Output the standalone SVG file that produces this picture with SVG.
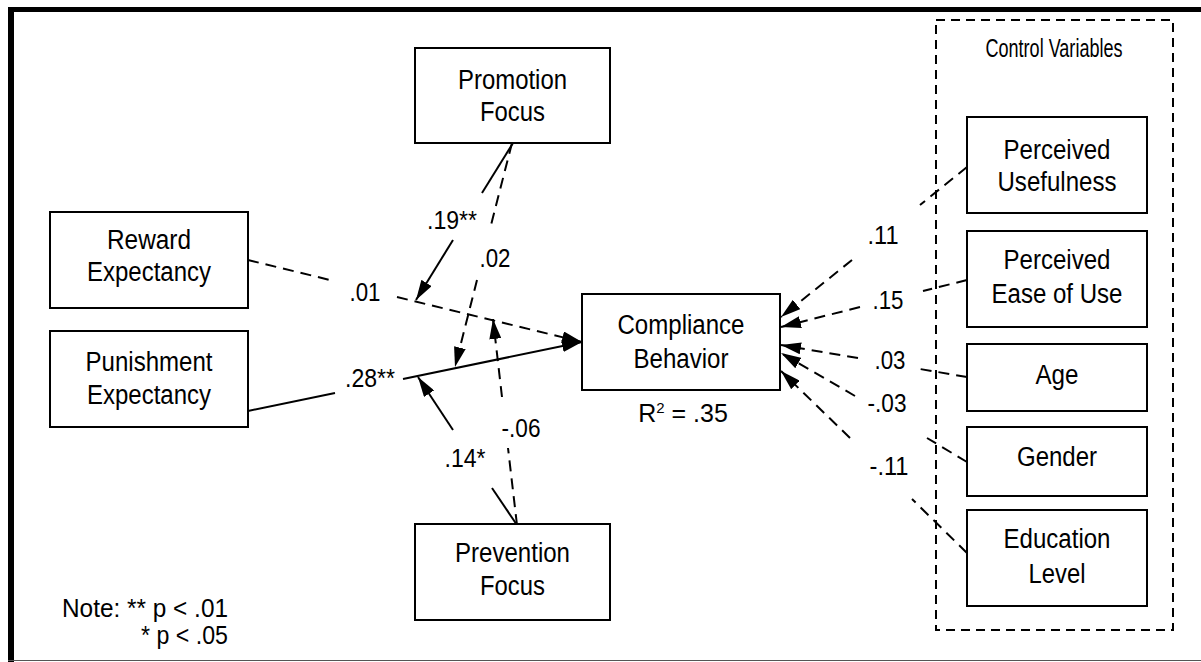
<svg xmlns="http://www.w3.org/2000/svg" width="1201" height="662" viewBox="0 0 1201 662">
<style>
.box{fill:#fff;stroke:#000;stroke-width:2}
.t{font-family:"Liberation Sans Narrow","Liberation Sans",Arial,sans-serif;font-size:27px;fill:#000;text-anchor:middle}
.cv{font-family:"Liberation Sans Narrow","Liberation Sans",Arial,sans-serif;font-size:25px;fill:#000;text-anchor:middle}
.lb{font-family:"Liberation Sans Narrow","Liberation Sans",Arial,sans-serif;font-size:26px;fill:#000;text-anchor:middle}
.s{stroke:#000;stroke-width:2;fill:none}
.d{stroke:#000;stroke-width:2;fill:none;stroke-dasharray:11 7}
</style>
<defs>
<marker id="ah" markerWidth="20" markerHeight="12" refX="20" refY="6" orient="auto" markerUnits="userSpaceOnUse">
<path d="M0,0 L20,6 L0,12 z" fill="#000"/>
</marker>
</defs>
<rect width="1201" height="662" fill="#fff"/>
<g id="frame">
<rect x="8" y="7" width="1193" height="5" fill="#000"/>
<rect x="8" y="7" width="6" height="655" fill="#000"/>
<line x1="8" y1="660.5" x2="1201" y2="660.5" stroke="#555" stroke-width="1"/>
</g>
<g id="control-group">
<rect x="936" y="20" width="237" height="610" fill="none" stroke="#000" stroke-width="2" stroke-dasharray="9 6"/>
<text x="1054" y="57" class="cv" font-size="25" textLength="137" lengthAdjust="spacingAndGlyphs">Control Variables</text>
</g>
<g id="connectors">
<path class="d" d="M248,260 L330,280"/>
<path class="d" d="M397,297 L582,342" marker-end="url(#ah)"/>
<path class="s" d="M248,411 L335,393"/>
<path class="s" d="M403,379 L582,342" marker-end="url(#ah)"/>
<path class="s" d="M513,143 L482,193"/>
<path class="s" d="M453,240 L416,300" marker-end="url(#ah)"/>
<path class="d" d="M512,143 L491,225"/>
<path class="d" d="M477,280 L455,367" marker-end="url(#ah)"/>
<path class="s" d="M517,525 L492,488"/>
<path class="s" d="M453,430 L418,377" marker-end="url(#ah)"/>
<path class="d" d="M517,525 L508,448"/>
<path class="d" d="M502,397 L493,319" marker-end="url(#ah)"/>
<path class="d" d="M967,167 L920,205"/>
<path class="d" d="M852,260 L781,317" marker-end="url(#ah)"/>
<path class="d" d="M967,280 L923,291"/>
<path class="d" d="M860,307 L781,327" marker-end="url(#ah)"/>
<path class="d" d="M967,377 L920,369"/>
<path class="d" d="M858,358 L781,345" marker-end="url(#ah)"/>
<path class="d" d="M967,462 L927,438"/>
<path class="d" d="M855,396 L781,353" marker-end="url(#ah)"/>
<path class="d" d="M967,553 L912,499"/>
<path class="d" d="M850,438 L781,371" marker-end="url(#ah)"/>
<text x="365" y="301" class="lb" textLength="31" lengthAdjust="spacingAndGlyphs">.01</text>
<text x="370" y="387" class="lb" textLength="50" lengthAdjust="spacingAndGlyphs">.28**</text>
<text x="452" y="229" class="lb" textLength="50" lengthAdjust="spacingAndGlyphs">.19**</text>
<text x="495" y="267" class="lb" textLength="31" lengthAdjust="spacingAndGlyphs">.02</text>
<text x="465" y="467" class="lb" textLength="41" lengthAdjust="spacingAndGlyphs">.14*</text>
<text x="521" y="437" class="lb" textLength="39" lengthAdjust="spacingAndGlyphs">-.06</text>
<text x="883" y="244" class="lb" textLength="31" lengthAdjust="spacingAndGlyphs">.11</text>
<text x="888" y="309" class="lb" textLength="31" lengthAdjust="spacingAndGlyphs">.15</text>
<text x="890" y="369" class="lb" textLength="31" lengthAdjust="spacingAndGlyphs">.03</text>
<text x="887" y="412" class="lb" textLength="39" lengthAdjust="spacingAndGlyphs">-.03</text>
<text x="889" y="475" class="lb" textLength="39" lengthAdjust="spacingAndGlyphs">-.11</text>
</g>
<g id="promotion">
<rect x="415" y="48" width="195" height="95" class="box"/>
<text x="512.5" y="89" class="t" textLength="109" lengthAdjust="spacingAndGlyphs">Promotion</text>
<text x="512.5" y="121" class="t" textLength="65" lengthAdjust="spacingAndGlyphs">Focus</text>
</g>
<g id="reward">
<rect x="50" y="212" width="198" height="96" class="box"/>
<text x="149" y="249" class="t" textLength="84" lengthAdjust="spacingAndGlyphs">Reward</text>
<text x="149" y="281" class="t" textLength="124" lengthAdjust="spacingAndGlyphs">Expectancy</text>
</g>
<g id="punishment">
<rect x="50" y="331" width="198" height="96" class="box"/>
<text x="149" y="371" class="t" textLength="127" lengthAdjust="spacingAndGlyphs">Punishment</text>
<text x="149" y="404" class="t" textLength="124" lengthAdjust="spacingAndGlyphs">Expectancy</text>
</g>
<g id="prevention">
<rect x="415" y="524" width="195" height="96" class="box"/>
<text x="512.5" y="562" class="t" textLength="115" lengthAdjust="spacingAndGlyphs">Prevention</text>
<text x="512.5" y="595" class="t" textLength="65" lengthAdjust="spacingAndGlyphs">Focus</text>
</g>
<g id="compliance">
<rect x="582" y="294" width="198" height="96" class="box"/>
<text x="681" y="334" class="t" textLength="127" lengthAdjust="spacingAndGlyphs">Compliance</text>
<text x="681" y="368" class="t" textLength="95" lengthAdjust="spacingAndGlyphs">Behavior</text>
<text x="683" y="422" class="t" style="font-size:25px">R<tspan font-size="15" dy="-9">2</tspan><tspan dy="9"> = .35</tspan></text>
</g>
<g id="usefulness">
<rect x="967" y="117" width="180" height="96" class="box"/>
<text x="1057" y="159" class="t" textLength="107" lengthAdjust="spacingAndGlyphs">Perceived</text>
<text x="1057" y="191" class="t" textLength="119" lengthAdjust="spacingAndGlyphs">Usefulness</text>
</g>
<g id="ease">
<rect x="967" y="231" width="180" height="96" class="box"/>
<text x="1057" y="269" class="t" textLength="107" lengthAdjust="spacingAndGlyphs">Perceived</text>
<text x="1057" y="303" class="t" textLength="131" lengthAdjust="spacingAndGlyphs">Ease of Use</text>
</g>
<g id="age">
<rect x="967" y="344" width="180" height="67" class="box"/>
<text x="1057" y="384" class="t" textLength="43" lengthAdjust="spacingAndGlyphs">Age</text>
</g>
<g id="gender">
<rect x="967" y="427" width="180" height="69" class="box"/>
<text x="1057" y="466" class="t" textLength="80" lengthAdjust="spacingAndGlyphs">Gender</text>
</g>
<g id="education">
<rect x="967" y="510" width="180" height="96" class="box"/>
<text x="1057" y="548" class="t" textLength="107" lengthAdjust="spacingAndGlyphs">Education</text>
<text x="1057" y="583" class="t" textLength="57" lengthAdjust="spacingAndGlyphs">Level</text>
</g>
<g id="note">
<text x="62" y="617" class="t" style="text-anchor:start;font-size:25px" textLength="166" lengthAdjust="spacingAndGlyphs">Note: ** p &lt; .01</text>
<text x="228" y="644" class="t" style="text-anchor:end;font-size:25px" textLength="87" lengthAdjust="spacingAndGlyphs">* p &lt; .05</text>
</g>
</svg>
